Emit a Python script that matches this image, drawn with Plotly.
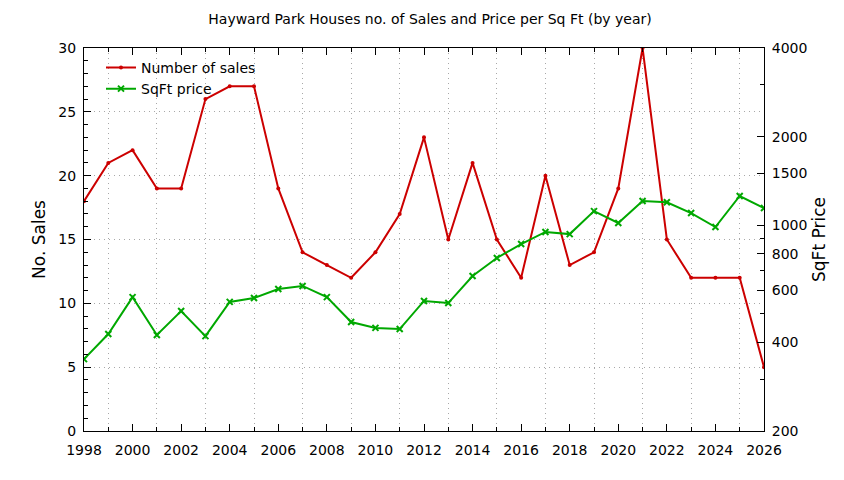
import plotly.graph_objects as go

years = list(range(1998, 2027))
sales = [18, 21, 22, 19, 19, 26, 27, 27, 19, 14, 13, 12, 14, 17, 23, 15,
         21, 15, 12, 20, 13, 14, 19, 30, 15, 12, 12, 12, 5]
sqft_price = [351, 427, 570, 424, 511, 420, 549, 566, 607, 622, 570, 469, 448, 444,
              553, 544, 672, 774, 863, 949, 933, 1117, 1018, 1208, 1197, 1100,
              986, 1257, 1144]

price_ticks = [200, 400, 600, 800, 1000, 1500, 2000, 4000]
price_minor = [300, 500, 700, 900, 3000]

red = "#cc0000"
green = "#00a800"
font = "DejaVu Sans"
gridcol = "#a8a8a8"

fig = go.Figure()
fig.add_trace(go.Scatter(x=years, y=sales, name="Number of sales", mode="lines+markers",
                         line=dict(color=red, width=2),
                         marker=dict(symbol="circle", size=4, color=red)))
fig.add_trace(go.Scatter(x=years, y=sqft_price, name="SqFt price", mode="lines+markers",
                         yaxis="y2", line=dict(color=green, width=2),
                         marker=dict(symbol="x-thin", size=6, color=green,
                                     line=dict(color=green, width=2))))

# page body has an 8px margin, so margins are shifted to compensate
fig.update_layout(
    width=844, height=480,
    margin=dict(l=76, r=88, t=40, b=57),
    plot_bgcolor="white", paper_bgcolor="white",
    font=dict(family=font, size=14, color="black"),
    title=dict(text="Hayward Park Houses no. of Sales and Price per Sq Ft (by year)",
               x=0.5, xanchor="center", y=0.987, yanchor="top",
               font=dict(size=14)),
    showlegend=True,
    legend=dict(x=0.025, y=0.99, xanchor="left", yanchor="top",
                bgcolor="rgba(0,0,0,0)", font=dict(size=14),
                tracegroupgap=0, itemwidth=30),
    xaxis=dict(range=[1998, 2026], tickmode="linear", tick0=1998, dtick=2,
               ticks="inside", ticklen=7, tickcolor="black", ticklabelstandoff=6,
               showline=True, linecolor="black", linewidth=1, mirror="ticks",
               zeroline=False, showgrid=False,
               minor=dict(dtick=1, tick0=1998, ticks="inside", ticklen=4,
                          tickcolor="black", showgrid=True, gridcolor=gridcol,
                          griddash="1px,4px")),
    yaxis=dict(title=dict(text="No. Sales", standoff=8), range=[0, 30], dtick=5,
               ticks="inside", ticklen=7, tickcolor="black", ticklabelstandoff=4,
               showline=True, linecolor="black", linewidth=1,
               zeroline=False, showgrid=True, gridcolor=gridcol, griddash="1px,4px",
               minor=dict(dtick=1, ticks="inside", ticklen=4, tickcolor="black")),
    yaxis2=dict(title=dict(text="SqFt Price", standoff=6), overlaying="y", side="right",
                type="log", range=[2.30103, 3.60206],
                tickmode="array", tickvals=price_ticks,
                ticktext=[str(v) for v in price_ticks],
                ticks="inside", ticklen=7, tickcolor="black", ticklabelstandoff=4,
                showline=True, linecolor="black", linewidth=1,
                showgrid=False, zeroline=False,
                minor=dict(tickmode="array", tickvals=price_minor, ticks="inside",
                           ticklen=4, tickcolor="black")),
)

fig.write_html("out.html")
